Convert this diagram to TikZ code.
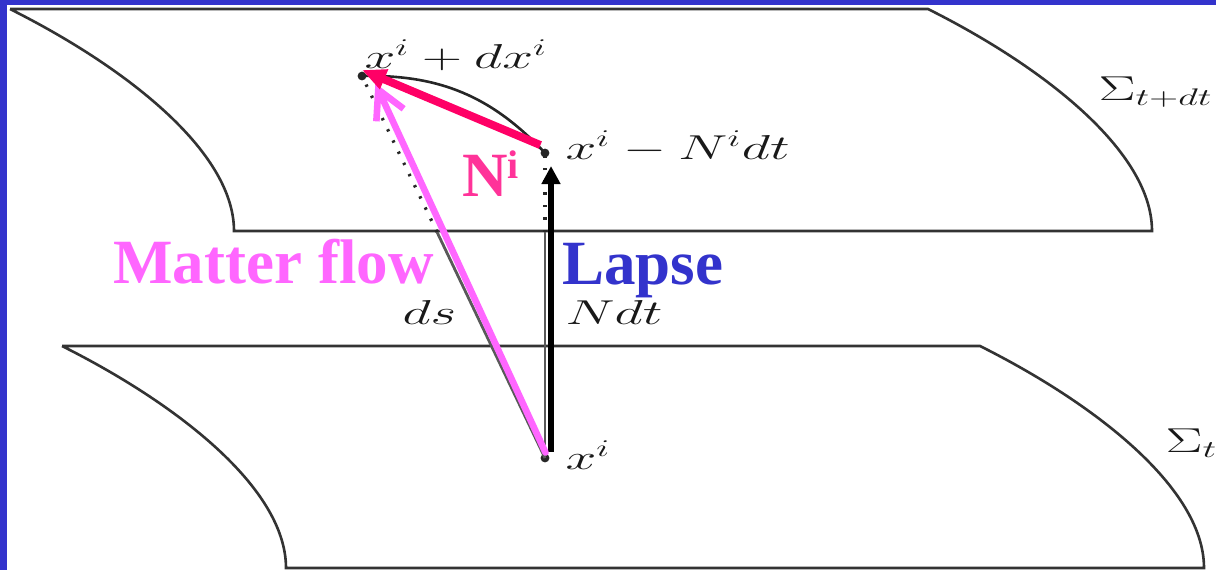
\documentclass[tikz,border=0pt]{standalone}
\usepackage[no-math]{fontspec}
\setmainfont{Liberation Serif}
\usetikzlibrary{arrows.meta}
\definecolor{slideblue}{HTML}{3333CC}
\definecolor{flowpink}{HTML}{FF66FF}
\definecolor{shiftred}{HTML}{FF0066}
\definecolor{shiftpink}{HTML}{FF3399}

\begin{document}
\begin{tikzpicture}[x=0.5pt, y=-0.5pt,
	sheet/.style={line width=1.3pt, black!80},
	worldline/.style={line width=1.4pt, black!65},
	dotline/.style={line width=1.6pt, black!85, dash pattern=on 1.2pt off 5pt},
	mathlbl/.style={font=\fontsize{17.28}{20}\selectfont, text=black!90, xscale=1.6, inner sep=0pt, anchor=base west},
	bigword/.style={font=\fontsize{31.5}{36}\selectfont\bfseries, inner sep=0pt, anchor=base west}]
	\useasboundingbox (0,0) rectangle (1216,570);
	\clip (0,0) rectangle (1216,570);
	\fill[white] (0,0) rectangle (1216,570);
	% the two slices
	\foreach \ox/\oy in {10/9, 62/346} {
		\draw[sheet] (\ox,\oy) -- ({\ox+918},\oy) .. controls ({\ox+1030},{\oy+56}) and ({\ox+1142},{\oy+141}) .. ({\ox+1142},{\oy+222})
			-- ({\ox+224},{\oy+222}) .. controls ({\ox+224},{\oy+141}) and ({\ox+112},{\oy+56}) .. (\ox,\oy);
	}
	\fill[slideblue] (0,0) rectangle (7,570);
	\fill[slideblue] (0,0) rectangle (1216,5);
	% points
	\coordinate (Ptop) at (362,76);
	\coordinate (Pmid) at (545,153);
	\coordinate (Pbot) at (545,458);
	\coordinate (dsedge) at (437,232);
	\coordinate (ndtedge) at (545,232);
	\foreach \p in {Ptop,Pmid,Pbot} {\fill[black!85] (\p) circle (2.2pt);}
	\draw[worldline] (Pbot) -- (dsedge);
	\draw[worldline] (Pbot) -- (ndtedge);
	\draw[dotline] (dsedge) -- (Ptop);
	\draw[dotline] (ndtedge) -- (Pmid);
	\draw[line width=1.3pt, black!85] (Ptop) to[bend left=24] (Pmid);
	\node[mathlbl] (lblTop) at (364,68) {$x^i+dx^i$};
	\node[mathlbl] (lblMid) at (565,159) {$x^i-N^i dt$};
	\node[mathlbl] (lblBot) at (565,469) {$x^i$};
	\node[mathlbl] (lblDs) at (402,324) {$ds$};
	\node[mathlbl] (lblNdt) at (565,324) {$N dt$};
	\node[mathlbl] (lblSigUp) at (1098,100) {$\Sigma_{t+dt}$};
	\node[mathlbl] (lblSigLow) at (1165,452) {$\Sigma_t$};
	% arrows
	\draw[line width=3pt, -{Triangle[length=9pt,width=9pt]}, shorten >=6.5pt, shorten <=3pt]
		([xshift=3pt]Pbot) -- ([xshift=3pt]Pmid);
	\draw[line width=3.3pt, flowpink, line cap=round, -{Straight Barb[length=14pt,width=15pt]}, shorten >=4pt, shorten <=3pt]
		([xshift=1.5pt]Pbot) -- ([xshift=5pt]Ptop);
	\draw[line width=4pt, shiftred, -{Triangle[length=12pt,width=10pt]}, shorten <=2.5pt]
		([yshift=3pt]Pmid) -- ([yshift=3pt]Ptop);
	\node[bigword, text=flowpink] (matter) at (113,283) {Matter flow};
	\node[bigword, text=slideblue] (lapse) at (562,284) {Lapse};
	\node[bigword, text=shiftpink] (shift) at (462,196) {N\raisebox{9pt}{\fontsize{20}{20}\selectfont i}};
\end{tikzpicture}
\end{document}
